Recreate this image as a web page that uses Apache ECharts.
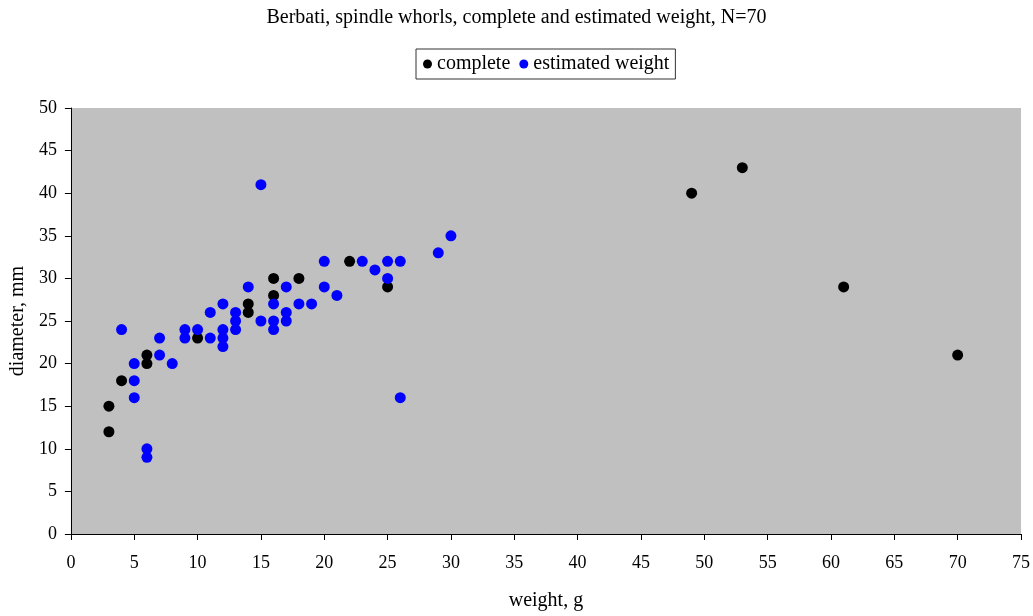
<!DOCTYPE html>
<html>
<head>
<meta charset="utf-8">
<script src="https://cdn.jsdelivr.net/npm/echarts@6/dist/echarts.min.js"></script>
<style>html,body{margin:0;padding:0;background:#fff}#c{width:1033px;height:616px}</style>
</head>
<body>
<div id="c"></div>
<script>
var completeWeight = [3,3,4,6,6,10,14,14,16,16,18,22,25,49,53,61,70];
var completeDiam   = [15,12,18,21,20,23,27,26,30,28,30,32,29,40,43,29,21];
var estWeight = [4,5,5,5,6,6,7,7,8,9,9,10,11,11,12,12,12,12,13,13,13,14,15,15,16,16,16,17,17,17,18,19,20,20,21,23,24,25,25,26,26,29,30];
var estDiam   = [24,20,18,16,10,9,23,21,20,24,23,24,26,23,27,24,23,22,26,25,24,29,41,25,27,25,24,29,26,25,27,27,32,29,28,32,31,32,30,32,16,33,35];

function pairs(a,b){return a.map(function(v,i){return [v,b[i]];});}
var FONT = '"Liberation Serif", "DejaVu Serif", serif';
var chart = echarts.init(document.getElementById('c'));
chart.setOption({
  animation:false,
  backgroundColor:'#fff',
  title:{text:'Berbati, spindle whorls, complete and estimated weight, N=70',left:'center',top:3,
    textStyle:{fontFamily:FONT,fontSize:20,fontWeight:'normal',color:'#000'}},
  legend:{top:49,left:416,itemWidth:9,itemHeight:9,itemGap:9,padding:[5,6,5,7],
    borderColor:'#333',borderWidth:1,
    textStyle:{fontFamily:FONT,fontSize:20,color:'#000'},
    data:[{name:'complete',icon:'circle'},{name:'estimated weight',icon:'circle'}]},
  grid:{left:68,right:12,top:108,bottom:79,show:true,backgroundColor:'#c0c0c0',borderWidth:0},
  xAxis:{type:'value',min:0,max:75,interval:5,name:'weight, g',nameLocation:'middle',nameGap:57,
    nameTextStyle:{fontFamily:FONT,fontSize:20,color:'#000'},
    axisLine:{show:true,onZero:false,lineStyle:{color:'#000',width:1}},
    axisTick:{show:true,length:6,lineStyle:{color:'#000'}},
    axisLabel:{fontFamily:FONT,fontSize:18,color:'#000',margin:20},
    splitLine:{show:false}},
  yAxis:{type:'value',min:0,max:50,interval:5,name:'diameter, mm',nameLocation:'middle',nameGap:42,
    nameTextStyle:{fontFamily:FONT,fontSize:20,color:'#000'},
    axisLine:{show:true,onZero:false,lineStyle:{color:'#000',width:1}},
    axisTick:{show:true,length:6,lineStyle:{color:'#000'}},
    axisLabel:{fontFamily:FONT,fontSize:18,color:'#000',margin:14},
    splitLine:{show:false}},
  series:[
    {name:'complete',type:'scatter',symbol:'circle',symbolSize:11,itemStyle:{color:'#000',opacity:1},data:pairs(completeWeight,completeDiam)},
    {name:'estimated weight',type:'scatter',symbol:'circle',symbolSize:11,itemStyle:{color:'#0000ff',opacity:1},data:pairs(estWeight,estDiam)}
  ]
});
</script>
</body>
</html>
